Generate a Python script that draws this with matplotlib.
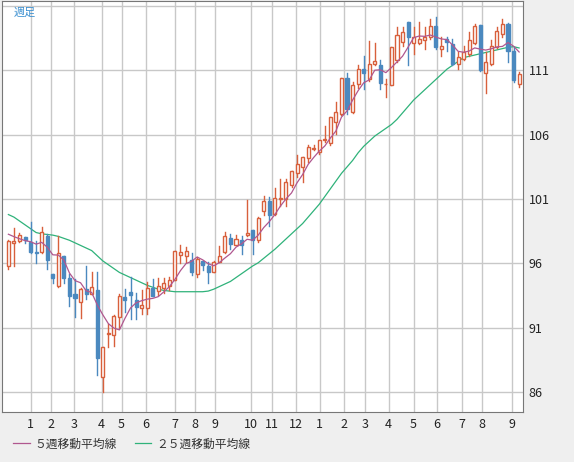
import matplotlib
matplotlib.use("Agg")
import matplotlib.pyplot as plt
from matplotlib.patches import Rectangle
from matplotlib.lines import Line2D
import numpy as np

plt.rcParams['font.family'] = ['Noto Sans CJK JP', 'DejaVu Sans']

opens = [95.8,97.56,97.77,98.03,97.67,96.9,96.86,98.1,95.2,94.25,96.57,94.9,93.6,93.0,94.05,93.66,93.9,87.2,90.5,90.4,91.8,93.4,
         93.8,93.12,92.56,92.56,94.1,93.83,94.06,94.27,94.72,96.64,96.56,96.3,95.16,96.2,95.8,95.3,96.13,96.9,98.0,97.45,97.84,98.2,98.6,97.8,
         100.05,100.85,99.87,101.0,101.0,102.08,103.0,103.5,104.23,104.92,104.7,105.56,105.4,106.97,107.6,110.4,107.74,109.92,111.08,110.3,111.54,111.4,109.92,
         109.84,111.78,113.2,114.75,113.12,113.12,113.38,113.64,114.42,112.68,113.46,113.07,111.52,111.9,112.3,113.12,114.57,110.8,111.47,112.81,113.8,114.62,112.5,109.96]
closes = [97.74,97.77,98.19,97.85,96.9,96.78,98.47,96.3,94.9,96.78,94.83,93.47,93.35,94.05,93.66,94.2,88.66,89.5,90.6,91.9,93.5,93.15,
          93.53,92.6,92.73,94.1,93.45,94.21,94.47,94.72,96.94,96.87,96.94,95.36,96.38,95.85,95.36,96.13,96.59,98.17,97.53,97.89,97.45,98.35,97.8,99.5,
          100.85,99.74,101.1,101.1,102.3,103.15,103.7,104.3,105.05,105.0,105.6,105.7,107.4,107.77,110.4,108.0,109.9,111.08,110.82,111.54,111.77,110.05,109.97,
          112.81,113.72,113.98,113.59,113.64,113.46,113.59,114.49,112.81,112.9,113.2,111.52,112.03,112.42,113.38,114.42,111.05,111.65,112.94,114.1,114.62,112.55,110.22,110.69]
highs = [97.8,98.73,98.4,98.05,99.2,97.74,98.8,98.3,95.2,98.1,96.6,95.2,94.8,94.1,95.8,95.35,95.35,89.5,91.3,92.0,93.6,94.0,
         94.98,93.7,93.96,94.57,94.8,94.85,94.85,94.98,96.94,97.45,97.28,96.8,96.5,96.2,96.13,96.2,97.33,98.42,98.3,98.24,98.1,100.9,98.6,99.57,
         101.28,101.2,101.85,102.56,102.56,103.15,104.4,104.3,105.18,105.18,105.6,106.7,107.4,108.56,110.4,110.8,110.1,111.46,112.1,113.26,113.1,111.8,110.3,
         112.81,114.36,114.36,114.75,114.36,114.75,114.36,115.0,115.14,113.59,113.64,113.46,112.42,112.94,113.98,114.62,114.57,112.42,113.33,114.36,115.0,114.67,112.81,110.87]
lows = [95.6,95.8,97.7,97.56,96.78,96.05,96.78,95.6,94.5,94.2,94.44,92.7,91.8,91.75,93.2,93.6,87.3,86.0,89.5,89.6,91.0,92.2,
        91.66,91.66,92.05,92.05,93.45,93.58,93.7,93.96,94.72,96.0,96.13,95.1,94.98,95.5,94.47,95.3,96.13,96.82,97.15,97.4,96.7,98.15,96.77,97.66,
        99.8,98.9,99.8,100.44,100.44,101.97,102.74,102.36,103.9,104.8,104.5,105.44,105.18,106.08,107.54,107.6,107.67,109.67,109.54,110.18,111.46,109.54,108.9,
        109.84,111.65,112.94,111.39,112.3,113.07,112.68,113.46,112.68,112.16,112.55,111.39,111.13,111.78,112.16,113.07,110.92,109.24,111.39,112.76,113.64,111.65,110.1,109.7]
prior_closes = [98.7, 99.0, 98.6, 97.3]
ma25 = [99.8,99.6,99.3,99.0,98.7,98.4,98.3,98.25,98.2,98.1,97.95,97.8,97.6,97.4,97.2,97.0,96.6,96.2,95.9,95.6,95.3,95.1,
        94.9,94.7,94.5,94.3,94.15,94.0,93.9,93.85,93.8,93.8,93.8,93.8,93.8,93.8,93.85,94.0,94.2,94.4,94.6,94.9,95.2,95.5,95.8,96.05,
        96.4,96.75,97.1,97.5,97.9,98.3,98.7,99.1,99.6,100.1,100.6,101.2,101.8,102.4,103.0,103.5,104.0,104.6,105.1,105.5,105.9,106.2,106.5,
        106.8,107.2,107.7,108.2,108.7,109.1,109.5,109.9,110.3,110.7,111.1,111.4,111.7,112.0,112.1,112.2,112.3,112.4,112.5,112.6,112.7,112.8,112.85,112.75]
month_pos = [4.0,7.6,11.8,16.8,20.4,24.7,30.0,33.6,37.2,43.7,47.4,51.8,56.1,60.4,64.2,68.5,73.0,77.2,81.7,85.3,90.7]
month_labels = ["1","2","3","4","5","6","7","8","9","10","11","12","1","2","3","4","5","6","7","8","9"]
yticks = [86, 91, 96, 101, 106, 111]

allc = np.array(prior_closes + closes)
ma5 = np.convolve(allc, np.ones(5) / 5, mode='valid')

RED = '#d8603c'; BLUE = '#4b89bf'; PURPLE = '#b0578f'; GREEN = '#2fb27a'
fig = plt.figure(figsize=(5.74, 4.62), dpi=100, facecolor='#efefef')
ax = fig.add_axes([2/574, 1 - 412/462, 521/574, 411/462])
ax.set_facecolor('white')
n = len(closes)
x = np.arange(n)
ax.set_xlim(-1.15, 92.7)
ax.set_ylim(84.45, 116.4)
for p in month_pos:
    ax.axvline(p, color='#c8c8c8', lw=1, zorder=0)
for yv in yticks + [116]:
    ax.axhline(yv, color='#c8c8c8', lw=1, zorder=0)
ax.plot(x, ma25, color=GREEN, lw=0.9, zorder=1)
w = 0.55
for i in range(n):
    o, c, h, l = opens[i], closes[i], highs[i], lows[i]
    up = c >= o
    col = RED if up else BLUE
    ax.plot([i, i], [l, h], color=col, lw=1, zorder=2)
    bot, top = min(o, c), max(o, c)
    ax.add_patch(Rectangle((i - w/2, bot), w, max(top - bot, 0.06),
                           facecolor='white' if up else BLUE, edgecolor=col, lw=1, zorder=3))
ax.plot(x, ma5, color=PURPLE, lw=0.9, zorder=4)
ax.set_xticks(month_pos)
ax.set_xticklabels(month_labels)
ax.set_yticks(yticks)
ax.set_yticklabels([str(v) for v in yticks])
ax.yaxis.tick_right()
ax.tick_params(axis='both', length=0, labelsize=9, colors='#222222', pad=4)
ax.tick_params(axis='y', pad=4)
for s in ['top', 'bottom', 'right']:
    ax.spines[s].set_color('#777777')
ax.spines['left'].set_color('#777777')
ax.text(12/521, 1 - 12/411, '週足', transform=ax.transAxes, color='#3a8fd0', fontsize=8, va='center')
handles = [Line2D([], [], color=PURPLE, lw=0.9), Line2D([], [], color=GREEN, lw=0.9)]
fig.legend(handles, ['５週移動平均線', '２５週移動平均線'], loc='center left', bbox_to_anchor=(0.005, 1 - 444/462),
           ncol=2, frameon=False, fontsize=8.5, handlelength=1.4, handletextpad=0.4, columnspacing=1.5, labelcolor='#333333')
fig.savefig('out.png', dpi=100, facecolor=fig.get_facecolor())
